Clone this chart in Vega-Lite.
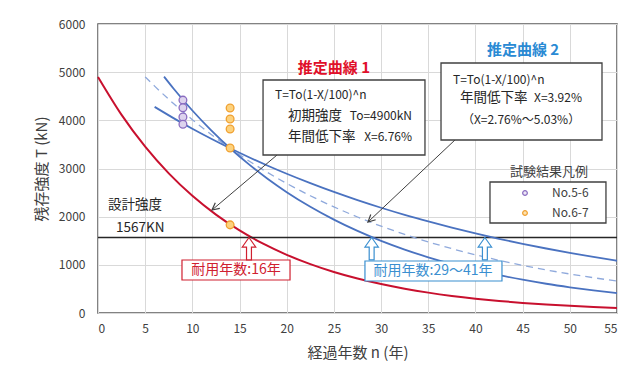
{
  "$schema": "https://vega.github.io/schema/vega-lite/v6.json",
  "width": 519,
  "height": 289,
  "autosize": {"type": "none"},
  "padding": {"left": 98, "top": 24, "right": 18, "bottom": 61},
  "background": "white",
  "config": {
    "font": "Noto Sans CJK JP",
    "view": {"stroke": "#595959", "strokeWidth": 1.5},
    "axis": {
      "grid": true, "gridColor": "#d9d9d9", "gridWidth": 1, "domain": false, "ticks": false,
      "labelFont": "Noto Sans CJK JP", "labelFontSize": 12, "labelColor": "#404040",
      "titleFont": "Noto Sans CJK JP", "titleFontSize": 15, "titleFontWeight": "normal", "titleColor": "#404040"
    }
  },
  "layer": [
    {
      "data": {"values": [{"n": 0, "T": 4900}, {"n": 2.5, "T": 4113}, {"n": 5, "T": 3453}, {"n": 7.5, "T": 2899}, {"n": 10, "T": 2433}, {"n": 12.5, "T": 2043}, {"n": 15, "T": 1715}, {"n": 17.5, "T": 1439}, {"n": 20, "T": 1208}, {"n": 22.5, "T": 1014}, {"n": 25, "T": 851}, {"n": 27.5, "T": 715}, {"n": 30, "T": 600}, {"n": 32.5, "T": 504}, {"n": 35, "T": 423}, {"n": 37.5, "T": 355}, {"n": 40, "T": 298}, {"n": 42.5, "T": 250}, {"n": 45, "T": 210}, {"n": 47.5, "T": 176}, {"n": 50, "T": 148}, {"n": 52.5, "T": 124}, {"n": 55, "T": 104}]},
      "mark": {"type": "line", "color": "#c8102e", "strokeWidth": 2, "interpolate": "monotone"},
      "encoding": {
        "x": {"field": "n", "type": "quantitative", "scale": {"domain": [0, 55], "nice": false}, "title": "経過年数 n (年)", "axis": {"values": [0, 5, 10, 15, 20, 25, 30, 35, 40, 45, 50, 55], "format": "d", "labelPadding": 10, "titlePadding": 11}},
        "y": {"field": "T", "type": "quantitative", "scale": {"domain": [0, 6000], "nice": false}, "title": "残存強度 T (kN)", "axis": {"values": [0, 1000, 2000, 3000, 4000, 5000, 6000], "format": "d", "labelPadding": 13, "titlePadding": 9}}
      }
    },
    {
      "data": {"values": [{"T": 1567}]},
      "mark": {"type": "rule", "color": "#262626", "strokeWidth": 1.5},
      "encoding": {"y": {"field": "T", "type": "quantitative"}}
    },
    {
      "data": {"values": [{"n": 5, "T": 4902}, {"n": 6, "T": 4710}, {"n": 8, "T": 4348}, {"n": 10, "T": 4013}, {"n": 12, "T": 3705}, {"n": 14, "T": 3420}, {"n": 16, "T": 3157}, {"n": 18, "T": 2914}, {"n": 20, "T": 2690}, {"n": 22.5, "T": 2434}, {"n": 25, "T": 2203}, {"n": 27.5, "T": 1993}, {"n": 30, "T": 1803}, {"n": 32.5, "T": 1632}, {"n": 35, "T": 1476}, {"n": 37.5, "T": 1336}, {"n": 40, "T": 1209}, {"n": 42.5, "T": 1094}, {"n": 45, "T": 990}, {"n": 47.5, "T": 895}, {"n": 50, "T": 810}, {"n": 52.5, "T": 733}, {"n": 55, "T": 663}]},
      "mark": {"type": "line", "color": "#8fa9dc", "strokeWidth": 1.3, "strokeDash": [7, 5], "interpolate": "monotone"},
      "encoding": {"x": {"field": "n", "type": "quantitative"}, "y": {"field": "T", "type": "quantitative"}}
    },
    {
      "data": {"values": [{"n": 6, "T": 4279}, {"n": 8, "T": 4046}, {"n": 10, "T": 3825}, {"n": 12, "T": 3617}, {"n": 14, "T": 3420}, {"n": 16, "T": 3234}, {"n": 18, "T": 3058}, {"n": 20, "T": 2891}, {"n": 22.5, "T": 2696}, {"n": 25, "T": 2513}, {"n": 27.5, "T": 2343}, {"n": 30, "T": 2185}, {"n": 32.5, "T": 2037}, {"n": 35, "T": 1900}, {"n": 37.5, "T": 1771}, {"n": 40, "T": 1651}, {"n": 42.5, "T": 1540}, {"n": 45, "T": 1436}, {"n": 47.5, "T": 1339}, {"n": 50, "T": 1248}, {"n": 52.5, "T": 1164}, {"n": 55, "T": 1085}]},
      "mark": {"type": "line", "color": "#4a72c0", "strokeWidth": 1.8, "interpolate": "monotone"},
      "encoding": {"x": {"field": "n", "type": "quantitative"}, "y": {"field": "T", "type": "quantitative"}}
    },
    {
      "data": {"values": [{"n": 7, "T": 4908}, {"n": 8, "T": 4661}, {"n": 10, "T": 4204}, {"n": 12, "T": 3792}, {"n": 14, "T": 3420}, {"n": 16, "T": 3085}, {"n": 18, "T": 2782}, {"n": 20, "T": 2509}, {"n": 22.5, "T": 2206}, {"n": 25, "T": 1939}, {"n": 27.5, "T": 1704}, {"n": 30, "T": 1498}, {"n": 32.5, "T": 1317}, {"n": 35, "T": 1157}, {"n": 37.5, "T": 1017}, {"n": 40, "T": 894}, {"n": 42.5, "T": 786}, {"n": 45, "T": 691}, {"n": 47.5, "T": 607}, {"n": 50, "T": 534}, {"n": 52.5, "T": 469}, {"n": 55, "T": 412}]},
      "mark": {"type": "line", "color": "#4a72c0", "strokeWidth": 1.8, "interpolate": "monotone"},
      "encoding": {"x": {"field": "n", "type": "quantitative"}, "y": {"field": "T", "type": "quantitative"}}
    },
    {
      "data": {"values": [{"n": 9, "T": 4420}, {"n": 9, "T": 4260}, {"n": 9, "T": 4070}, {"n": 9, "T": 3920}]},
      "mark": {"type": "point", "shape": "circle", "filled": true, "fill": "#ddd3ee", "stroke": "#8a6cc0", "strokeWidth": 1.3, "size": 60, "opacity": 1},
      "encoding": {"x": {"field": "n", "type": "quantitative"}, "y": {"field": "T", "type": "quantitative"}}
    },
    {
      "data": {"values": [{"n": 14, "T": 4256}, {"n": 14, "T": 4028}, {"n": 14, "T": 3820}, {"n": 14, "T": 3426}, {"n": 14, "T": 1830}]},
      "mark": {"type": "point", "shape": "circle", "filled": true, "fill": "#fcd27e", "stroke": "#f0a030", "strokeWidth": 1.3, "size": 60, "opacity": 1},
      "encoding": {"x": {"field": "n", "type": "quantitative"}, "y": {"field": "T", "type": "quantitative"}}
    },
    {
      "data": {"values": [{"n": 18.97, "T": 3280, "n2": 12.08, "T2": 2138}, {"n": 37.83, "T": 3592, "n2": 28.61, "T2": 1889}]},
      "mark": {"type": "rule", "color": "#404040", "strokeWidth": 1},
      "encoding": {"x": {"field": "n", "type": "quantitative"}, "y": {"field": "T", "type": "quantitative"}, "x2": {"field": "n2"}, "y2": {"field": "T2"}}
    },
    {
      "data": {"values": [{"n": 12.08, "T": 2138}]},
      "mark": {"type": "point", "shape": "M-0.55,1.1L0,0L0.55,1.1", "filled": false, "stroke": "#404040", "strokeWidth": 1.2, "size": 169, "angle": 231, "opacity": 1},
      "encoding": {"x": {"field": "n", "type": "quantitative"}, "y": {"field": "T", "type": "quantitative"}}
    },
    {
      "data": {"values": [{"n": 28.61, "T": 1889}]},
      "mark": {"type": "point", "shape": "M-0.55,1.1L0,0L0.55,1.1", "filled": false, "stroke": "#404040", "strokeWidth": 1.2, "size": 169, "angle": 227, "opacity": 1},
      "encoding": {"x": {"field": "n", "type": "quantitative"}, "y": {"field": "T", "type": "quantitative"}}
    },
    {
      "data": {"values": [{"n": 17.49, "n2": 34.65, "T": 4837, "T2": 3280}, {"n": 36.35, "n2": 53.41, "T": 5190, "T2": 3592}, {"n": 41.54, "n2": 53.83, "T": 2720, "T2": 1868}]},
      "mark": {"type": "rect", "fill": "white", "stroke": "#404040", "strokeWidth": 1.3},
      "encoding": {"x": {"field": "n", "type": "quantitative"}, "y": {"field": "T", "type": "quantitative"}, "x2": {"field": "n2"}, "y2": {"field": "T2"}}
    },
    {
      "data": {"values": [{"n": 8.9, "n2": 20.35, "T": 1100, "T2": 685}]},
      "mark": {"type": "rect", "fill": "white", "stroke": "#d02030", "strokeWidth": 1.2},
      "encoding": {"x": {"field": "n", "type": "quantitative"}, "y": {"field": "T", "type": "quantitative"}, "x2": {"field": "n2"}, "y2": {"field": "T2"}}
    },
    {
      "data": {"values": [{"n": 28.29, "n2": 42.81, "T": 1080, "T2": 664}]},
      "mark": {"type": "rect", "fill": "white", "stroke": "#3a8fd0", "strokeWidth": 1.2},
      "encoding": {"x": {"field": "n", "type": "quantitative"}, "y": {"field": "T", "type": "quantitative"}, "x2": {"field": "n2"}, "y2": {"field": "T2"}}
    },
    {
      "data": {"values": [{"n": 16, "T": 1567}]},
      "mark": {"type": "point", "shape": "M0,0L0.6,0.85L0.22,0.85L0.22,2L-0.22,2L-0.22,0.85L-0.6,0.85Z", "filled": true, "fill": "white", "stroke": "#d02030", "strokeWidth": 1.2, "size": 500, "opacity": 1},
      "encoding": {"x": {"field": "n", "type": "quantitative"}, "y": {"field": "T", "type": "quantitative"}}
    },
    {
      "data": {"values": [{"n": 29, "T": 1567}, {"n": 41, "T": 1567}]},
      "mark": {"type": "point", "shape": "M0,0L0.6,0.85L0.22,0.85L0.22,2L-0.22,2L-0.22,0.85L-0.6,0.85Z", "filled": true, "fill": "white", "stroke": "#3a8fd0", "strokeWidth": 1.2, "size": 500, "opacity": 1},
      "encoding": {"x": {"field": "n", "type": "quantitative"}, "y": {"field": "T", "type": "quantitative"}}
    },
    {
      "data": {"values": [{"n": 45.25, "T": 2491}]},
      "mark": {"type": "point", "shape": "circle", "filled": true, "fill": "#ece6f5", "stroke": "#8a6cc0", "strokeWidth": 1.2, "size": 22, "opacity": 1},
      "encoding": {"x": {"field": "n", "type": "quantitative"}, "y": {"field": "T", "type": "quantitative"}}
    },
    {
      "data": {"values": [{"n": 45.25, "T": 2076}]},
      "mark": {"type": "point", "shape": "circle", "filled": true, "fill": "#fde3b0", "stroke": "#f0a030", "strokeWidth": 1.2, "size": 22, "opacity": 1},
      "encoding": {"x": {"field": "n", "type": "quantitative"}, "y": {"field": "T", "type": "quantitative"}}
    },
    {
      "data": {"values": [
        {"n": 18.76, "T": 4526, "label": "T=To(1-X/100)^n"},
        {"n": 37.62, "T": 4837, "label": "T=To(1-X/100)^n"}
      ]},
      "mark": {"type": "text", "align": "left", "baseline": "middle", "fontSize": 12, "color": "#262626"},
      "encoding": {"x": {"field": "n", "type": "quantitative"}, "y": {"field": "T", "type": "quantitative"}, "text": {"field": "label"}}
    },
    {
      "data": {"values": [
        {"n": 20.14, "T": 4090, "label": "初期強度"},
        {"n": 20.14, "T": 3654, "label": "年間低下率"},
        {"n": 38.36, "T": 4464, "label": "年間低下率"}
      ]},
      "mark": {"type": "text", "align": "left", "baseline": "middle", "fontSize": 13.5, "color": "#262626"},
      "encoding": {"x": {"field": "n", "type": "quantitative"}, "y": {"field": "T", "type": "quantitative"}, "text": {"field": "label"}}
    },
    {
      "data": {"values": [
        {"n": 33.28, "T": 4090, "label": "To=4900kN"},
        {"n": 33.28, "T": 3654, "label": "X=6.76%"},
        {"n": 51.29, "T": 4464, "label": "X=3.92%"}
      ]},
      "mark": {"type": "text", "align": "right", "baseline": "middle", "fontSize": 12, "color": "#262626"},
      "encoding": {"x": {"field": "n", "type": "quantitative"}, "y": {"field": "T", "type": "quantitative"}, "text": {"field": "label"}}
    },
    {
      "data": {"values": [{"n": 1.06, "T": 2242, "label": "設計強度"}, {"n": 1.91, "T": 1765, "label": "1567KN"}]},
      "mark": {"type": "text", "align": "left", "baseline": "middle", "fontSize": 13.5, "color": "#262626"},
      "encoding": {"x": {"field": "n", "type": "quantitative"}, "y": {"field": "T", "type": "quantitative"}, "text": {"field": "label"}}
    },
    {
      "data": {"values": [{"n": 44.83, "T": 4007, "label": "（X=2.76%～5.03%）"}]},
      "mark": {"type": "text", "align": "center", "baseline": "middle", "fontSize": 12, "color": "#262626"},
      "encoding": {"x": {"field": "n", "type": "quantitative"}, "y": {"field": "T", "type": "quantitative"}, "text": {"field": "label"}}
    },
    {
      "data": {"values": [{"n": 47.79, "T": 2927, "label": "試験結果凡例"}]},
      "mark": {"type": "text", "align": "center", "baseline": "middle", "fontSize": 13, "color": "#404040"},
      "encoding": {"x": {"field": "n", "type": "quantitative"}, "y": {"field": "T", "type": "quantitative"}, "text": {"field": "label"}}
    },
    {
      "data": {"values": [{"n": 48.11, "T": 2491, "label": "No.5-6"}, {"n": 48.11, "T": 2076, "label": "No.6-7"}]},
      "mark": {"type": "text", "align": "left", "baseline": "middle", "fontSize": 12, "color": "#404040"},
      "encoding": {"x": {"field": "n", "type": "quantitative"}, "y": {"field": "T", "type": "quantitative"}, "text": {"field": "label"}}
    },
    {
      "data": {"values": [{"n": 25.0, "T": 5087, "label": "推定曲線 1"}]},
      "mark": {"type": "text", "align": "center", "baseline": "middle", "fontSize": 15, "fontWeight": "bold", "color": "#e0102a"},
      "encoding": {"x": {"field": "n", "type": "quantitative"}, "y": {"field": "T", "type": "quantitative"}, "text": {"field": "label"}}
    },
    {
      "data": {"values": [{"n": 45.04, "T": 5460, "label": "推定曲線 2"}]},
      "mark": {"type": "text", "align": "center", "baseline": "middle", "fontSize": 15, "fontWeight": "bold", "color": "#2a8ad4"},
      "encoding": {"x": {"field": "n", "type": "quantitative"}, "y": {"field": "T", "type": "quantitative"}, "text": {"field": "label"}}
    },
    {
      "data": {"values": [{"n": 14.62, "T": 893, "label": "耐用年数:16年"}]},
      "mark": {"type": "text", "align": "center", "baseline": "middle", "fontSize": 14, "color": "#d02030"},
      "encoding": {"x": {"field": "n", "type": "quantitative"}, "y": {"field": "T", "type": "quantitative"}, "text": {"field": "label"}}
    },
    {
      "data": {"values": [{"n": 35.5, "T": 872, "label": "耐用年数:29～41年"}]},
      "mark": {"type": "text", "align": "center", "baseline": "middle", "fontSize": 14, "color": "#3a8fd0"},
      "encoding": {"x": {"field": "n", "type": "quantitative"}, "y": {"field": "T", "type": "quantitative"}, "text": {"field": "label"}}
    }
  ]
}
